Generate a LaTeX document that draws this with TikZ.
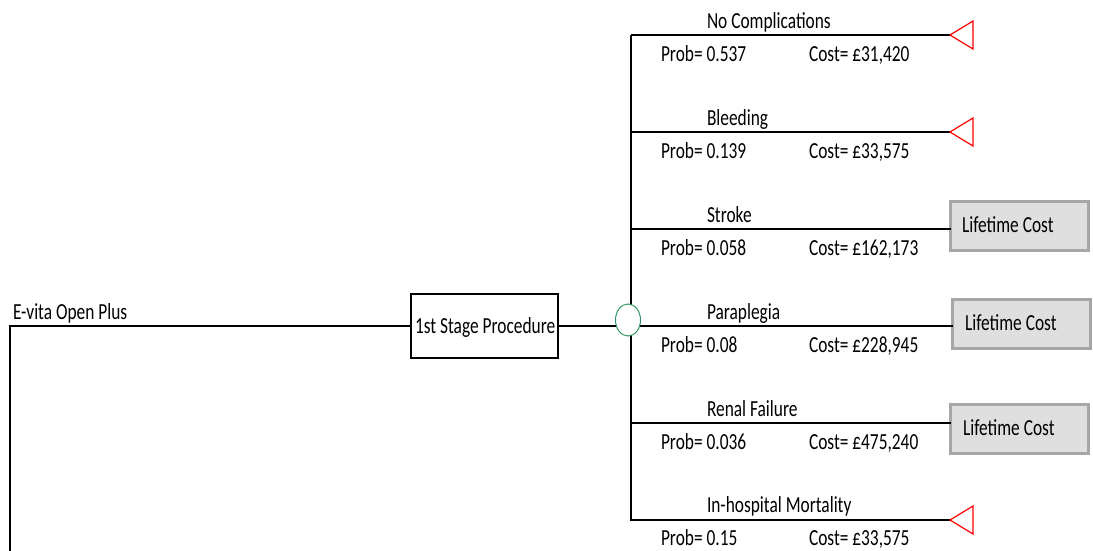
\documentclass[tikz,border=0pt]{standalone}
\usepackage{fontspec}
\setmainfont{Carlito}[FakeStretch=0.755]
\usetikzlibrary{shapes.geometric}
\definecolor{chancegreen}{RGB}{50,150,100}
\begin{document}
\begin{tikzpicture}[x=1pt,y=-1pt,
  every node/.style={inner sep=0pt,outer sep=0pt,font=\fontsize{23}{27}\selectfont},
  lbl/.style={anchor=base west},
  wire/.style={line width=1.9pt,black},
  stagebox/.style={draw=black,line width=1.9pt,minimum width=147pt,minimum height=64pt},
  chance/.style={draw=chancegreen,line width=1pt,fill=white,ellipse,minimum width=25pt,minimum height=32pt},
  termtri/.style={draw=red,line width=1.2pt},
  lifebox/.style={draw=gray!70,line width=3pt,fill=gray!25,minimum width=138pt,minimum height=49pt}
]
\useasboundingbox (0,0) rectangle (1093,550);
% root
\coordinate (root) at (10,326);
\coordinate (rootend) at (10,552);
\node[lbl] (evita) at (13,319) {E-vita Open Plus};
\node[stagebox] (stage) at (484.5,326) {};
\node[lbl] (stagetxt) at (415,333) {1st Stage Procedure};
\draw[wire] (rootend) -- (root) -- (stage.west);
% junction
\coordinate (jtop) at (631,35);
\coordinate (jbot) at (631,521);
\draw[wire] (jtop) -- (jbot);
% branch coordinates
\foreach \n/\y in {b1/35,b2/132,b3/229,b4/326,b5/423,b6/520}{
  \coordinate (\n s) at (631,\y);
}
\coordinate (b1e) at (950,35);
\coordinate (b2e) at (950,132);
\coordinate (b6e) at (950,520);
\draw[wire] (b1s) -- (b1e);
\draw[wire] (b2s) -- (b2e);
\draw[wire] (b6s) -- (b6e);
% terminal triangles
\foreach \t in {b1e,b2e,b6e}{
  \draw[termtri] (\t) -- ++(23,-14) -- ++(0,28) -- cycle;
}
% lifetime boxes
\node[lifebox] (life3) at (1019.5,226) {};
\node[lifebox] (life4) at (1021.5,324) {};
\node[lifebox] (life5) at (1019.5,429) {};
\node[lbl] at (962,232) {Lifetime Cost};
\node[lbl] at (965,330) {Lifetime Cost};
\node[lbl] at (963,435) {Lifetime Cost};
\draw[wire] (b3s) -- (b3s -| life3.west);
\draw[wire] (b4s) -- (b4s -| life4.west);
\draw[wire] (b5s) -- (b5s -| life5.west);
% stage to chance
\node[chance] (chance) at (628,320) {};
\draw[wire] (stage.east) -- (chance.west |- stage.east);
% labels
\foreach \y/\name/\p/\c in {35/No Complications/0.537/£31{,}420,
                           132/Bleeding/0.139/£33{,}575,
                           229/Stroke/0.058/£162{,}173,
                           326/Paraplegia/0.08/£228{,}945,
                           423/Renal Failure/0.036/£475{,}240,
                           519/In-hospital Mortality/0.15/£33{,}575}{
  \node[lbl] at (707,\y-7) {\name};
  \node[lbl] at (661,\y+26) {Prob= \p};
  \node[lbl] at (809,\y+26) {Cost= \c};
}
\end{tikzpicture}
\end{document}
